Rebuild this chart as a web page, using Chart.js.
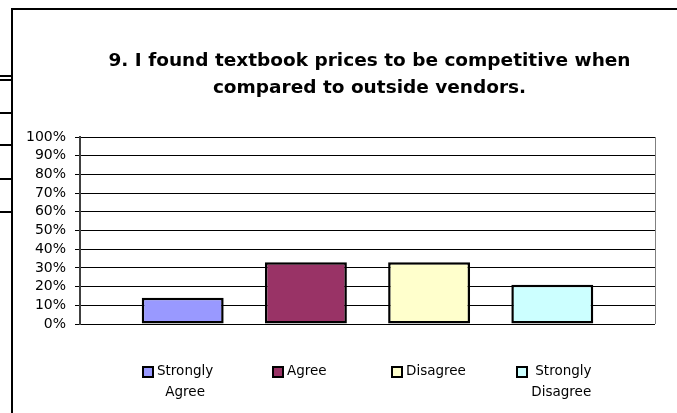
<!DOCTYPE html>
<html lang="en">
<head>
  <meta charset="UTF-8" />
  <title>Textbook prices</title>
  <script src="https://cdn.jsdelivr.net/npm/chart.js"></script>
  <style>
    body {
      margin: 0;
      padding: 0;
      background-color: #fff;
    }

    .chart-box {
      width: 677px;
      height: 413px;
    }
  </style>
</head>
<body>

  <div class="chart-box">
    <canvas id="pricesChart" width="677" height="413"></canvas>
  </div>

  <script>
    // data
    const categories = ['Strongly Agree', 'Agree', 'Disagree', 'Strongly Disagree'];
    const legendLines = [['Strongly', 'Agree'], ['Agree'], ['Disagree'], [' Strongly', 'Disagree']];
    const percentValues = [14, 33, 33, 21];
    const barColors = ['#9999FF', '#993366', '#FFFFCC', '#CCFFFF'];
    const yMax = 100;
    const yStep = 10;
    const titleLines = ['9. I found textbook prices to be competitive when', 'compared to outside vendors.'];

    // legend box left edges
    const legendX = [142, 272, 391, 516];

    const framePlugin = {
      id: 'frame',
      beforeDraw(chart) {
        const ctx = chart.ctx;
        ctx.save();
        ctx.fillStyle = '#fff';
        ctx.fillRect(0, 0, chart.width, chart.height);
        ctx.fillStyle = '#000';
        ctx.fillRect(11, 8, chart.width - 11, 2);
        ctx.fillRect(11, 8, 2, chart.height - 8);
        // bits of the page table behind the chart
        [76, 80, 113, 145, 179, 212].forEach(y => ctx.fillRect(0, y - 1, 11, 2));
        ctx.restore();
      },
      afterDraw(chart) {
        const ctx = chart.ctx;
        ctx.save();
        ctx.fillStyle = '#000';
        ctx.textBaseline = 'middle';

        // title
        ctx.font = 'bold 18.5px "DejaVu Sans"';
        ctx.textAlign = 'center';
        ctx.fillText(titleLines[0], 369.5, 61);
        ctx.fillText(titleLines[1], 369.5, 88);

        // legend
        ctx.font = '13.5px "DejaVu Sans"';
        chart.data.datasets.forEach((ds, i) => {
          const x = legendX[i];
          ctx.fillStyle = '#000';
          ctx.fillRect(x, 366, 12, 12);
          ctx.fillStyle = ds.backgroundColor;
          ctx.fillRect(x + 2, 368, 8, 8);
          const lines = legendLines[i];
          const w = Math.max(...lines.map(l => ctx.measureText(l).width));
          const cx = x + 15 + w / 2;
          ctx.fillStyle = '#000';
          ctx.textAlign = 'center';
          lines.forEach((l, j) => ctx.fillText(l, cx, 371 + j * 21));
        });
        ctx.restore();
      }
    };

    const ctxPrices = document.getElementById('pricesChart').getContext('2d');
    const pricesChart = new Chart(ctxPrices, {
      type: 'bar',
      data: {
        labels: [''],
        datasets: categories.map((name, i) => ({
          label: name,
          data: [percentValues[i]],
          backgroundColor: barColors[i],
          borderColor: '#000',
          borderWidth: 2.5,
          borderSkipped: false
        }))
      },
      options: {
        responsive: false,
        animation: false,
        layout: {
          padding: { top: 137, bottom: 89, left: 0, right: 22 }
        },
        datasets: {
          bar: {
            categoryPercentage: 0.857,
            barPercentage: 0.665
          }
        },
        scales: {
          x: {
            ticks: { display: false },
            grid: {
              offset: true,
              drawTicks: false,
              color: ctx => ctx.index === 0 ? 'rgba(0,0,0,0)' : '#808080'
            },
            border: { display: false },
            afterFit: s => { s.height = 0; }
          },
          y: {
            min: 0,
            max: yMax,
            ticks: {
              stepSize: yStep,
              autoSkip: false,
              callback: v => v + '%',
              color: '#000',
              padding: 9,
              font: { family: 'DejaVu Sans', size: 14 }
            },
            grid: {
              color: '#000',
              tickLength: 5
            },
            border: { color: '#404040', width: 2 },
            afterFit: s => { s.width = 80; }
          }
        },
        plugins: {
          legend: { display: false },
          title: { display: false },
          tooltip: { enabled: false }
        }
      },
      plugins: [framePlugin]
    });
  </script>

</body>
</html>
